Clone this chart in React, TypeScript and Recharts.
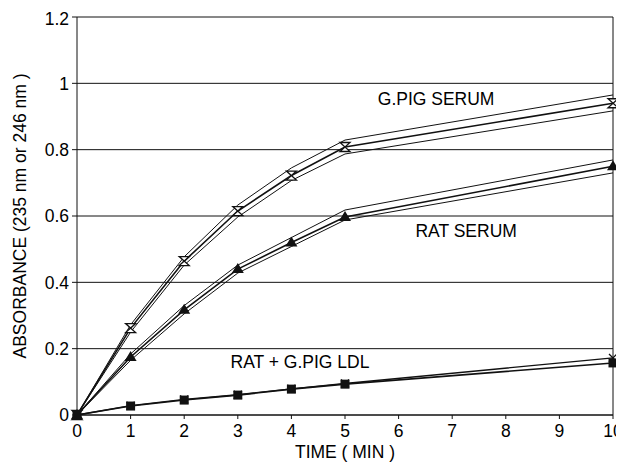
import {
  ComposedChart,
  Line,
  XAxis,
  YAxis,
  CartesianGrid,
  ReferenceLine,
  ReferenceDot,
} from "recharts";

// time (min)
const times = [0, 1, 2, 3, 4, 5, 10];

// G.PIG SERUM: mean and upper/lower band
const gpigSerum = [0, 0.262, 0.464, 0.615, 0.722, 0.808, 0.94];
const gpigHigh = [0, 0.272, 0.477, 0.633, 0.745, 0.829, 0.965];
const gpigLow = [0, 0.25, 0.452, 0.597, 0.707, 0.787, 0.917];

// RAT SERUM: mean and upper/lower band
const ratSerum = [0, 0.175, 0.317, 0.44, 0.52, 0.597, 0.75];
const ratHigh = [0, 0.184, 0.33, 0.452, 0.535, 0.618, 0.769];
const ratLow = [0, 0.165, 0.305, 0.428, 0.508, 0.588, 0.73];

// RAT + G.PIG LDL (two curves)
const ldlSquare = [0, 0.027, 0.045, 0.06, 0.078, 0.093, 0.157];
const ldlCross = [0, 0.028, 0.047, 0.061, 0.079, 0.095, 0.172];

const xTicks = [0, 1, 2, 3, 4, 5, 6, 7, 8, 9, 10];
const yTicks = [0, 0.2, 0.4, 0.6, 0.8, 1, 1.2];

const annotations = [
  { text: "G.PIG SERUM", x: 6.7, y: 0.953 },
  { text: "RAT SERUM", x: 7.26, y: 0.555 },
  { text: "RAT + G.PIG LDL", x: 4.16, y: 0.16 },
];

const data = times.map((t, i) => ({
  t,
  gpig: gpigSerum[i],
  gpigHi: gpigHigh[i],
  gpigLo: gpigLow[i],
  rat: ratSerum[i],
  ratHi: ratHigh[i],
  ratLo: ratLow[i],
  ldlSq: ldlSquare[i],
  ldlX: ldlCross[i],
}));

const INK = "#111";
const FONT = 17.5;
const W = 616;
const H = 454;
const M = { top: 9, right: 11, left: 0, bottom: 17 };
const Y_W = 69;
const X_H = 30;

const Hourglass = (p: any) => {
  const { cx, cy } = p;
  if (cx == null || cy == null) return null;
  const w = 5;
  const h = 4.5;
  return (
    <polygon
      points={`${cx - w},${cy - h} ${cx + w},${cy - h} ${cx - w},${cy + h} ${cx + w},${cy + h}`}
      fill="#fff"
      stroke={INK}
      strokeWidth={1.3}
    />
  );
};

const Triangle = (p: any) => {
  const { cx, cy } = p;
  if (cx == null || cy == null) return null;
  return (
    <polygon
      points={`${cx},${cy - 6} ${cx + 6},${cy + 4} ${cx - 6},${cy + 4}`}
      fill={INK}
    />
  );
};

const Square = (p: any) => {
  const { cx, cy } = p;
  if (cx == null || cy == null) return null;
  return <rect x={cx - 4.5} y={cy - 4.5} width={9} height={9} fill={INK} />;
};

const Cross = (p: any) => {
  const { cx, cy } = p;
  if (cx == null || cy == null) return null;
  const s = 4;
  return (
    <path
      d={`M${cx - s},${cy - s}L${cx + s},${cy + s}M${cx + s},${cy - s}L${cx - s},${cy + s}`}
      stroke={INK}
      strokeWidth={1.3}
    />
  );
};

const mk = (Comp: any) => (props: any) => <Comp key={`d-${props.index}`} {...props} />;

const XTitle = () => {
  const cx = M.left + Y_W + (W - M.left - Y_W - M.right) / 2;
  return (
    <text x={cx} y={H - M.bottom - X_H + 43} textAnchor="middle" fill="#000" fontSize={FONT}>
      TIME ( MIN )
    </text>
  );
};

const YTitle = () => {
  const cy = M.top + (H - M.top - M.bottom - X_H) / 2;
  const cx = 12;
  return (
    <text
      x={cx}
      y={cy}
      transform={`rotate(-90, ${cx}, ${cy})`}
      textAnchor="middle"
      dominantBaseline="central"
      fill="#000"
      fontSize={FONT}
    >
      ABSORBANCE (235 nm or 246 nm )
    </text>
  );
};

const App = () => {
  return (
    <div style={{ fontFamily: "'Liberation Sans', Arial, sans-serif" }}>
      <ComposedChart width={W} height={H} data={data} margin={M}>
        <CartesianGrid vertical={false} stroke={INK} strokeWidth={1} />
        <XAxis
          type="number"
          dataKey="t"
          domain={[0, 10]}
          ticks={xTicks}
          height={X_H}
          tickSize={4}
          tickMargin={6}
          stroke={INK}
          tick={{ fill: "#000", fontSize: FONT }}
          label={{ content: XTitle }}
        />
        <YAxis
          domain={[0, 1.2]}
          ticks={yTicks}
          width={Y_W}
          tickSize={5}
          tickMargin={3}
          stroke={INK}
          tick={{ fill: "#000", fontSize: FONT }}
          tickFormatter={(v: number) => String(v)}
          label={{ content: YTitle }}
        />
        <ReferenceLine x={10} stroke={INK} />

        <Line dataKey="gpigHi" stroke={INK} strokeWidth={1} dot={false} isAnimationActive={false} />
        <Line dataKey="gpigLo" stroke={INK} strokeWidth={1} dot={false} isAnimationActive={false} />
        <Line dataKey="gpig" stroke={INK} strokeWidth={1.6} dot={mk(Hourglass)} isAnimationActive={false} />

        <Line dataKey="ratHi" stroke={INK} strokeWidth={1} dot={false} isAnimationActive={false} />
        <Line dataKey="ratLo" stroke={INK} strokeWidth={1} dot={false} isAnimationActive={false} />
        <Line dataKey="rat" stroke={INK} strokeWidth={1.6} dot={mk(Triangle)} isAnimationActive={false} />

        <Line dataKey="ldlX" stroke={INK} strokeWidth={1.3} dot={mk(Cross)} isAnimationActive={false} />
        <Line dataKey="ldlSq" stroke={INK} strokeWidth={1.6} dot={mk(Square)} isAnimationActive={false} />

        {annotations.map((a) => (
          <ReferenceDot
            key={a.text}
            x={a.x}
            y={a.y}
            r={0}
            stroke="none"
            label={{ value: a.text, position: "center", fill: "#000", fontSize: FONT }}
          />
        ))}
      </ComposedChart>
    </div>
  );
};

export default App;
